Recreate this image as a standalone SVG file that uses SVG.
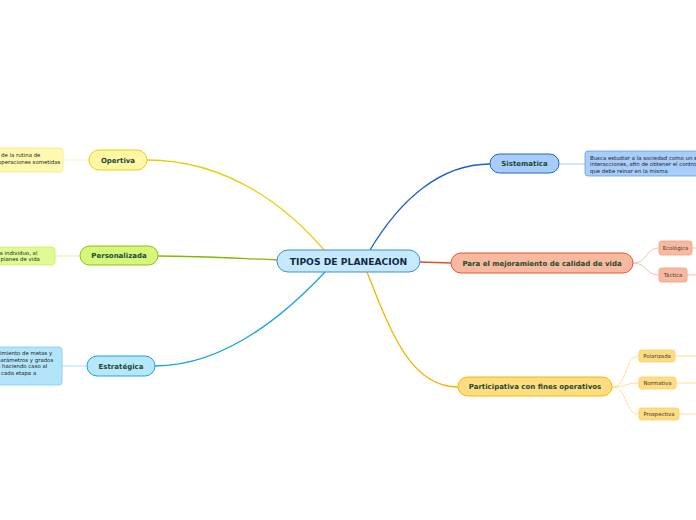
<svg xmlns="http://www.w3.org/2000/svg" width="696" height="520" viewBox="0 0 696 520">
<style>
text{font-family:"DejaVu Sans",Verdana,sans-serif;}
.t{font-weight:bold;font-size:7px;fill:#1d4a2e;text-anchor:middle;}
.c{font-weight:bold;font-size:9.2px;fill:#13294b;text-anchor:middle;}
.s{font-size:5.4px;fill:#3a3a3a;text-anchor:middle;}
.n{font-size:5.4px;fill:#222;}
.l{fill:none;stroke-width:1.3;}
.f{fill:none;stroke-width:0.9;}
</style>
<rect width="696" height="520" fill="#fff"/>
<g id="connectors">
<path class="l" d="M324,250 C290,210 230,160 147,160" stroke="#e5cf00"/>
<path class="f" d="M63,160 L89,160" stroke="#fbf3a8"/>
<path class="l" d="M277,260 C230,258 200,256 158,256" stroke="#86b800"/>
<path class="f" d="M55,256 L80,256" stroke="#dcf39a"/>
<path class="l" d="M325,272 C280,320 220,366 155,366" stroke="#18a3e3"/>
<path class="f" d="M62,366 L87,366" stroke="#9fdcf6"/>
<path class="l" d="M370,250 C400,200 440,164 490,164" stroke="#1c5fcc"/>
<path class="f" d="M559,164 L585,164" stroke="#a9c9f3"/>
<path class="l" d="M420,262 L451,263" stroke="#e8501e"/>
<path class="f" d="M633,263 C648,263 645,248 659,248 M633,263 C648,263 645,275 659,275" stroke="#f7b8a2"/>
<path class="f" d="M692,248 L696,248 M687,275 L696,275" stroke="#f7b8a2"/>
<path class="l" d="M367,272 C390,330 410,387 458,387" stroke="#f6b400"/>
<path class="f" d="M612,387 C628,387 624,356 639,356 M612,387 C628,387 624,383 639,383 M612,387 C628,387 624,414 639,414" stroke="#fddc8a"/>
<path class="f" d="M675,356 L696,356 M676,383 L696,383 M679,414 L696,414" stroke="#fddc8a"/>
</g>
<g id="center">
<rect x="277" y="250" width="143" height="22" rx="11" fill="#c6e9fb" stroke="#3b90d0" stroke-width="1"/>
<text class="c" x="348.5" y="264.5">TIPOS DE PLANEACION</text>
</g>
<g id="opertiva">
<rect x="89" y="150" width="58" height="20" rx="10" fill="#fff6a6" stroke="#e8cf10" stroke-width="1"/>
<text class="t" x="118" y="162.5">Opertiva</text>
</g>
<g id="opertiva-note">
<rect x="-10" y="148" width="73" height="24" rx="3" fill="#fff9b0" stroke="#f3e68a" stroke-width="0.8"/>
<text class="n" x="1" y="157">de la rutina de</text>
<text class="n" x="-2" y="163.5">operaciones sometidas</text>
</g>
<g id="personalizada">
<rect x="80" y="246" width="78" height="19" rx="9.5" fill="#d5f77c" stroke="#8cc400" stroke-width="1"/>
<text class="t" x="119" y="258">Personalizada</text>
</g>
<g id="personalizada-note">
<rect x="-10" y="247" width="65" height="18" rx="3" fill="#e1fa94" stroke="#c9ec6e" stroke-width="0.8"/>
<text class="n" x="-2" y="254.5">la individuo, al</text>
<text class="n" x="-4" y="261">s planes de vida</text>
</g>
<g id="estrategica">
<rect x="87" y="356" width="68" height="20" rx="10" fill="#b6e7fb" stroke="#1aa3e2" stroke-width="1"/>
<text class="t" x="121" y="368.5">Estratégica</text>
</g>
<g id="estrategica-note">
<rect x="-10" y="347" width="72" height="38" rx="3" fill="#b3e5fa" stroke="#7ccbf1" stroke-width="0.8"/>
<text class="n" x="-3" y="355">cimiento de metas y</text>
<text class="n" x="-3" y="361.5">parámetros y grados</text>
<text class="n" x="-3" y="368">a haciendo caso al</text>
<text class="n" x="1" y="374.5">cada etapa a</text>
</g>
<g id="sistematica">
<rect x="490" y="154" width="69" height="19" rx="9.5" fill="#a9cdfa" stroke="#1c66ca" stroke-width="1"/>
<text class="t" x="524.5" y="166">Sistematica</text>
</g>
<g id="sistematica-note">
<rect x="585" y="151" width="120" height="25" rx="3" fill="#a9cdfa" stroke="#609fe2" stroke-width="0.8"/>
<text class="n" x="590" y="159.5">Busca estudiar a la sociedad como un s</text>
<text class="n" x="590" y="166">interacciones, afin de obtener el control</text>
<text class="n" x="590" y="172.5">que debe reinar en la misma</text>
</g>
<g id="mejoramiento">
<rect x="451" y="253" width="182" height="20" rx="10" fill="#f9b9a1" stroke="#e8542a" stroke-width="1"/>
<text class="t" x="542" y="265.5">Para el mejoramiento de calidad de vida</text>
</g>
<g id="ecologica">
<rect x="659" y="241" width="33" height="14" rx="2.5" fill="#f9b9a1" stroke="#f39c82" stroke-width="0.8"/>
<text class="s" x="675.5" y="250">Ecológica</text>
</g>
<g id="tactica">
<rect x="659" y="268" width="28" height="14" rx="2.5" fill="#f9b9a1" stroke="#f39c82" stroke-width="0.8"/>
<text class="s" x="673" y="277">Táctica</text>
</g>
<g id="participativa">
<rect x="458" y="377" width="154" height="19" rx="9.5" fill="#fddc82" stroke="#f5b800" stroke-width="1"/>
<text class="t" x="535" y="389">Participativa con fines operativos</text>
</g>
<g id="polarizada">
<rect x="639" y="350" width="36" height="12" rx="2.5" fill="#fddc82" stroke="#f8cf6a" stroke-width="0.8"/>
<text class="s" x="657" y="358">Polarizada</text>
</g>
<g id="normativa">
<rect x="639" y="377" width="37" height="12" rx="2.5" fill="#fddc82" stroke="#f8cf6a" stroke-width="0.8"/>
<text class="s" x="657.5" y="385">Normativa</text>
</g>
<g id="prospectiva">
<rect x="639" y="408" width="40" height="12" rx="2.5" fill="#fddc82" stroke="#f8cf6a" stroke-width="0.8"/>
<text class="s" x="659" y="416">Prospectiva</text>
</g>
</svg>
